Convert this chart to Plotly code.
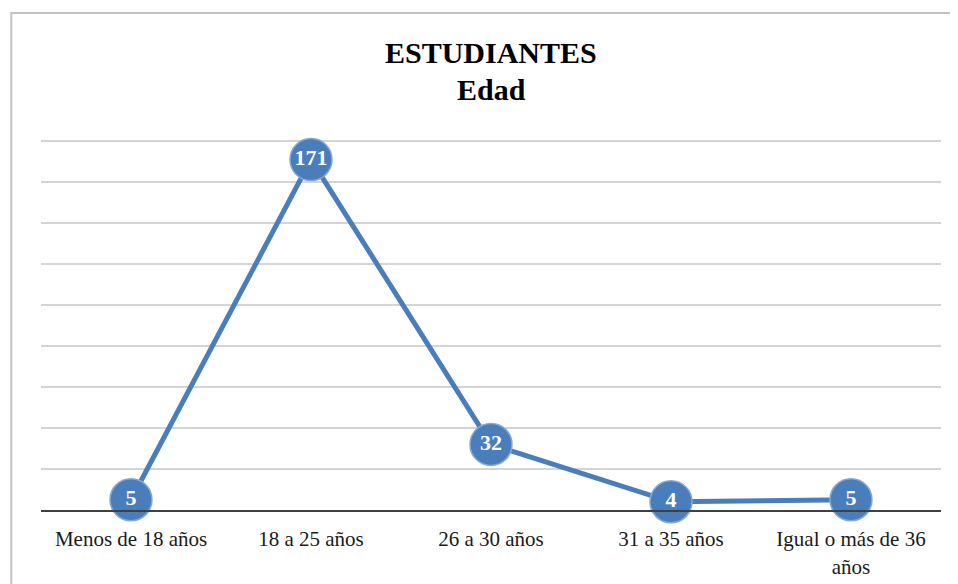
import plotly.graph_objects as go

# data
categorias = ["Menos de 18 años", "18 a 25 años", "26 a 30 años", "31 a 35 años", "Igual o más de 36<br>años"]
estudiantes = [5, 171, 32, 4, 5]
titulo = "ESTUDIANTES"
subtitulo = "Edad"

AZUL = "#4a7ebb"
SERIF = "Liberation Serif, Times New Roman, serif"

fig = go.Figure()

fig.add_trace(
    go.Scatter(
        x=categorias,
        y=estudiantes,
        mode="lines+markers+text",
        text=[str(v) for v in estudiantes],
        textposition="middle center",
        textfont=dict(family=SERIF, size=22, color="white", weight="bold"),
        line=dict(color=AZUL, width=5),
        marker=dict(size=42, color=AZUL, line=dict(color="#86a8d6", width=1.5)),
        cliponaxis=False,
        hoverinfo="skip",
    )
)

# la página tiene 8px de margen en el body: se descuentan del tamaño
fig.update_layout(
    width=950,
    height=576,
    autosize=False,
    paper_bgcolor="white",
    plot_bgcolor="white",
    margin=dict(l=33, r=17, t=127, b=74),
    showlegend=False,
    xaxis=dict(
        type="category",
        range=[-0.5, 4.5],
        automargin=False,
        showgrid=False,
        showline=True,
        linecolor="#404040",
        linewidth=2,
        ticks="",
        ticklabelstandoff=9,
        tickfont=dict(family=SERIF, size=21, color="#1a1a1a"),
        fixedrange=True,
    ),
    yaxis=dict(
        range=[0, 183],
        tick0=0,
        dtick=20,
        automargin=False,
        showgrid=True,
        gridcolor="#d4d4d4",
        gridwidth=1.5,
        zeroline=False,
        showticklabels=False,
        ticks="",
        fixedrange=True,
    ),
    annotations=[
        dict(text="<b>" + titulo + "</b>", xref="paper", yref="paper", x=0.5, y=1.2187,
             xanchor="center", yanchor="middle", showarrow=False,
             font=dict(family=SERIF, size=30, color="black")),
        dict(text="<b>" + subtitulo + "</b>", xref="paper", yref="paper", x=0.5, y=1.12,
             xanchor="center", yanchor="middle", showarrow=False,
             font=dict(family=SERIF, size=30, color="black")),
    ],
    shapes=[
        # marco exterior del gráfico
        dict(
            type="rect",
            xref="paper",
            yref="paper",
            x0=-0.033,
            x1=1.2,
            y0=-0.4,
            y1=1.3253,
            line=dict(color="#c2c2c2", width=2),
            fillcolor="rgba(0,0,0,0)",
            layer="below",
        )
    ],
)

fig.write_html("out.html")
